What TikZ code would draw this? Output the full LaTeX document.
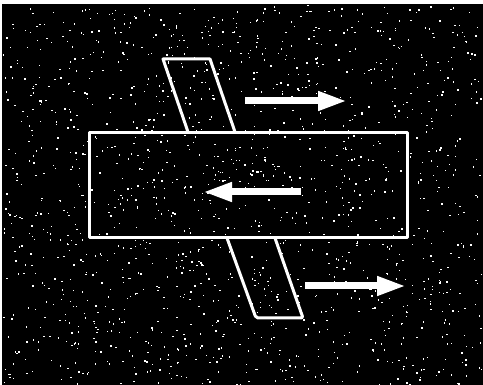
\documentclass[tikz,border=0pt]{standalone}
\usetikzlibrary{arrows.meta}
\begin{document}
\begin{tikzpicture}[x=1pt,y=-1pt,
  outline/.style={draw=white,line width=3pt,line join=round},
  flow/.style={draw=white,line width=7pt,-{Triangle[length=29pt,width=18pt]}},
  speck/.style={fill=white}]
\useasboundingbox (0,0) rectangle (483,385);
\fill[white] (0,0) rectangle (483,385);
\fill[black] (2,4) rectangle (483,385);
\pgfmathsetseed{7}
\foreach \i in {1,...,1500}{
  \pgfmathsetmacro{\px}{3+479*rnd}
  \pgfmathsetmacro{\py}{5+379*rnd}
  \fill[speck] (\px,\py) rectangle ++(1.4,1.4);
}
% slanted strip, visible parts
\draw[outline] (188,132) -- (163,59) -- (210,59) -- (235,132);
\draw[outline,rounded corners=2pt] (227,238) -- (256,318) -- (303,318) -- (275,238);
% rectangle
\node[outline,minimum width=318pt,minimum height=105pt,inner sep=0pt] (band) at (248,185) {};
% arrows
\coordinate (a1s) at (245,101); \coordinate (a1e) at (347,101);
\coordinate (a2s) at (301,192); \coordinate (a2e) at (203,192);
\coordinate (a3s) at (305,286); \coordinate (a3e) at (406,286);
\draw[flow] (a1s) -- (a1e);
\draw[flow] (a2s) -- (a2e);
\draw[flow] (a3s) -- (a3e);
\end{tikzpicture}
\end{document}
